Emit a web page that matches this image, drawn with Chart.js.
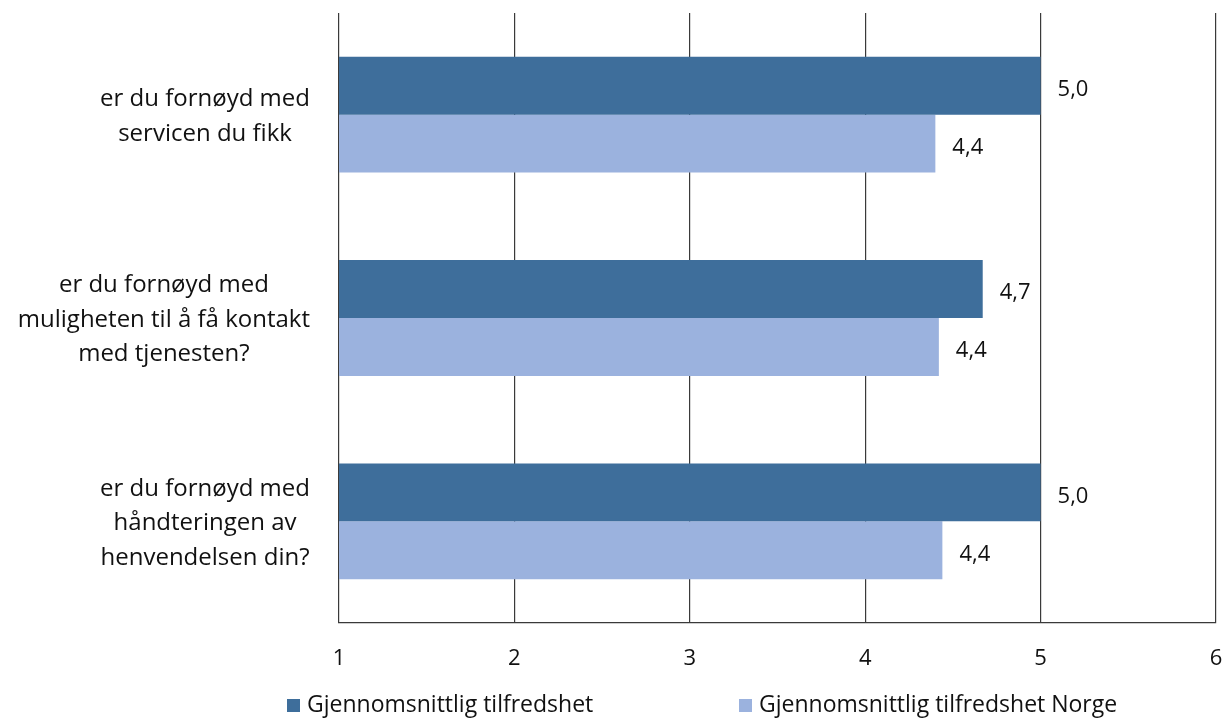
<!DOCTYPE html>
<html>
<head>
<meta charset="utf-8">
<script src="https://cdn.jsdelivr.net/npm/chart.js@4"></script>
<style>
html,body{margin:0;padding:0;background:#fff;}
#wrap{width:1224px;height:719px;}
</style>
</head>
<body>
<div id="wrap"><canvas id="chart" width="1224" height="719"></canvas></div>
<script>
// data
let categories=[
["er du fornøyd med","servicen du fikk"],
["er du fornøyd med","muligheten til å få kontakt","med tjenesten?"],
["er du fornøyd med","håndteringen av","henvendelsen din?"]
];

let seriesNames=["Gjennomsnittlig tilfredshet","Gjennomsnittlig tilfredshet Norge"];

let lokal=[5.0,4.67,5.0];

let norge=[4.40,4.42,4.44];

let xTicks=[1,2,3,4,5,6];

let colors=["#3e6e9b","#9bb2de"];

let font="'Open Sans', Lato, sans-serif";


// category labels, centred per block, blocks right aligned
let catLabels={
id:"catLabels",
afterDraw(chart){
let ctx=chart.ctx;
let y=chart.scales.y;
ctx.save();
ctx.font="24px "+font;
ctx.fillStyle="#111";
ctx.textBaseline="middle";
ctx.textAlign="center";
categories.forEach((lines,i)=>{
let w=Math.max(...lines.map(l=>ctx.measureText(l).width));
let cx=310-w/2;
let cy=y.getPixelForTick(i)+2;
let lh=34.5;
lines.forEach((l,k)=>{
ctx.fillText(l,cx,cy+(k-(lines.length-1)/2)*lh);
});
});
ctx.restore();
}
};


// value labels at bar ends
let valueLabels={
id:"valueLabels",
afterDatasetsDraw(chart){
let ctx=chart.ctx;
ctx.save();
ctx.font="22px "+font;
ctx.fillStyle="#111";
ctx.textBaseline="middle";
ctx.textAlign="left";
chart.data.datasets.forEach((ds,d)=>{
chart.getDatasetMeta(d).data.forEach((bar,i)=>{
let txt=ds.data[i].toFixed(1).replace(".",",");
ctx.fillText(txt,bar.x+17,bar.y+4);
});
});
ctx.restore();
}
};


// legend underneath
let legendBottom={
id:"legendBottom",
afterDraw(chart){
let ctx=chart.ctx;
ctx.save();
ctx.font="23px "+font;
ctx.textBaseline="middle";
ctx.textAlign="left";
let xs=[287,739];
seriesNames.forEach((n,i)=>{
ctx.fillStyle=colors[i];
ctx.fillRect(xs[i],699,13,13);
ctx.fillStyle="#111";
ctx.fillText(n,xs[i]+20,705);
});
ctx.restore();
}
};


new Chart(

document.getElementById("chart"),

{

type:"bar",

data:{

labels:categories,

datasets:[

{
label:seriesNames[0],
data:lokal,
backgroundColor:colors[0]
},

{
label:seriesNames[1],
data:norge,
backgroundColor:colors[1]
}

]

},

options:{

indexAxis:"y",
responsive:false,
animation:false,
devicePixelRatio:1,

layout:{padding:{left:0,right:8,top:13,bottom:0}},

categoryPercentage:0.57,
barPercentage:1.0,

plugins:{
legend:{display:false},
tooltip:{enabled:false}
},

scales:{

x:{
min:1,
max:6,
afterBuildTicks:s=>{s.ticks=xTicks.map(v=>({value:v}));},
grid:{color:"#3a3a3a",lineWidth:1.2,drawTicks:false},
border:{color:"#3a3a3a",width:1.2},
ticks:{
color:"#111",
font:{family:font,size:22},
padding:23
},
afterFit:s=>{s.height=96;s.paddingRight=0;s.paddingLeft=0;}
},

y:{
grid:{display:false},
border:{display:false},
ticks:{display:false},
afterFit:s=>{s.width=339;}
}

}

},

plugins:[catLabels,valueLabels,legendBottom]

}

);
</script>
</body>
</html>
